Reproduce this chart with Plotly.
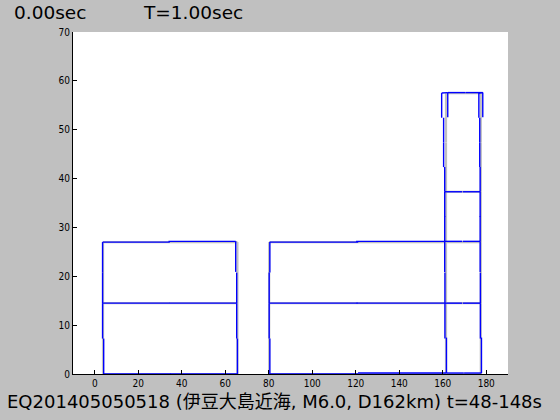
import plotly.graph_objects as go

# axis ticks
x_ticks = list(range(0, 181, 20))
y_ticks = list(range(0, 71, 10))

# undeformed geometry (column x positions, floor levels)
f1_cols = [3.8, 65.6]
f1_levels = [0, 14.5, 27]
f2_cols = [80.2, 161.5]
f2_levels = [0, 14.5, 27]
tw_cols = [161.5, 177.5]
tw_levels = [0, 14.5, 27, 37.3, 47.4, 57.5]
tw_beam_levels = [0, 14.5, 27, 37.3]

# nodal displacements (dx per column per level, dy per column per level)
f1_dx = [[0.3, -0.2, -0.2], [0.0, -0.35, -0.8]]
f1_dy = [[0.0, 0.0, 0.0], [0.0, 0.0, 0.15]]
f2_dx = [[0.3, 0.0, 0.3], [0.2, -0.5, -0.7]]
f2_dy = [[0.0, 0.0, 0.0], [0.2, 0.0, 0.15]]
tw_dx = [[0.2, -0.5, -0.6, -0.6, -1.1, -2.0], [0.3, -0.2, -0.3, -0.3, -0.5, -0.9]]
tw_dy = [[0.2, 0.0, 0.15, 0.0, 0.0, 0.0], [0.2, 0.0, 0.15, 0.0, 0.0, 0.0]]
# second overlapping tower frame, top node displacement (dx, dy) per column
twB_top = [(0.8, 0.1), (0.9, 0.1)]

xu, yu, xd, yd = [], [], [], []


def add_element(p0, p1, d0, d1):
    xu.extend([p0[0], p1[0], None])
    yu.extend([p0[1], p1[1], None])
    mx, my = (p0[0] + p1[0]) / 2, (p0[1] + p1[1]) / 2
    xd.extend([p0[0] + d0[0], mx + d0[0], None, mx + d1[0], p1[0] + d1[0], None])
    yd.extend([p0[1] + d0[1], my + d0[1], None, my + d1[1], p1[1] + d1[1], None])


def add_frame(cols, levels, dx, dy, beam_levels, col_range):
    for c in col_range:
        for k in range(len(levels) - 1):
            add_element((cols[c], levels[k]), (cols[c], levels[k + 1]),
                        (dx[c][k], dy[c][k]), (dx[c][k + 1], dy[c][k + 1]))
    for k, lv in enumerate(levels):
        if lv not in beam_levels:
            continue
        for c in range(len(cols) - 1):
            add_element((cols[c], lv), (cols[c + 1], lv),
                        (dx[c][k], dy[c][k]), (dx[c + 1][k], dy[c + 1][k]))


add_frame(f1_cols, f1_levels, f1_dx, f1_dy, f1_levels, [0, 1])
add_frame(f2_cols, f2_levels, f2_dx, f2_dy, f2_levels, [0])
add_frame(tw_cols, tw_levels, tw_dx, tw_dy, tw_beam_levels, [0, 1])

# top story of the overlapping tower frame
top = tw_levels[-1]
mid = (tw_levels[-2] + tw_levels[-1]) / 2
for c in range(2):
    bx, by = twB_top[c]
    xd.extend([tw_cols[c] + bx, tw_cols[c] + bx, None])
    yd.extend([mid + by, top + by, None])
    # connector between the two frames at roof level
    xd.extend([tw_cols[c] + tw_dx[c][-1], tw_cols[c] + bx, None])
    yd.extend([top + tw_dy[c][-1], top + by, None])
# roof beam
add_element((tw_cols[0], top), (tw_cols[1], top), twB_top[0], twB_top[1])

fig = go.Figure()
fig.add_trace(go.Scatter(x=xu, y=yu, mode="lines",
                         line=dict(color="#C0C0C0", width=2.2), hoverinfo="skip"))
fig.add_trace(go.Scatter(x=xd, y=yd, mode="lines",
                         line=dict(color="#0000FF", width=1.4), hoverinfo="skip"))

tick_font = dict(family="Liberation Sans Narrow, DejaVu Sans Condensed, sans-serif", size=10, color="black")
fig.update_xaxes(range=[-10, 190], tickvals=x_ticks, ticks="inside", ticklen=4,
                 tickcolor="black", showline=True, linecolor="black", linewidth=1,
                 showgrid=False, zeroline=False, tickfont=tick_font)
fig.update_yaxes(range=[0, 70], tickvals=y_ticks, ticks="inside", ticklen=4,
                 tickcolor="black", showline=True, linecolor="black", linewidth=1,
                 showgrid=False, zeroline=False, tickfont=tick_font)

title_font = dict(family="DejaVu Sans, sans-serif", size=18.5, color="black")
fig.add_annotation(text="0.00sec", xref="paper", yref="paper", x=(12 - 73) / 435,
                   y=(374 - 13) / 342, xanchor="left", yanchor="middle",
                   showarrow=False, font=title_font)
fig.add_annotation(text="T=1.00sec", xref="paper", yref="paper", x=(141 - 73) / 435,
                   y=(374 - 13) / 342, xanchor="left", yanchor="middle",
                   showarrow=False, font=title_font)
fig.add_annotation(text="EQ201405050518 (伊豆大島近海, M6.0, D162km) t=48-148s",
                   xref="paper", yref="paper", x=(5 - 73) / 435, y=(374 - 401) / 342,
                   xanchor="left", yanchor="middle", showarrow=False,
                   font=dict(family="DejaVu Sans, Noto Sans CJK JP, sans-serif", size=18, color="black"))

fig.update_layout(width=560, height=420, margin=dict(l=73, r=52, t=32, b=46),
                  paper_bgcolor="#C0C0C0", plot_bgcolor="white", showlegend=False)
fig.write_html("out.html", config={"displayModeBar": False},
               post_script="document.body.style.margin='0px';document.body.style.overflow='hidden';")
